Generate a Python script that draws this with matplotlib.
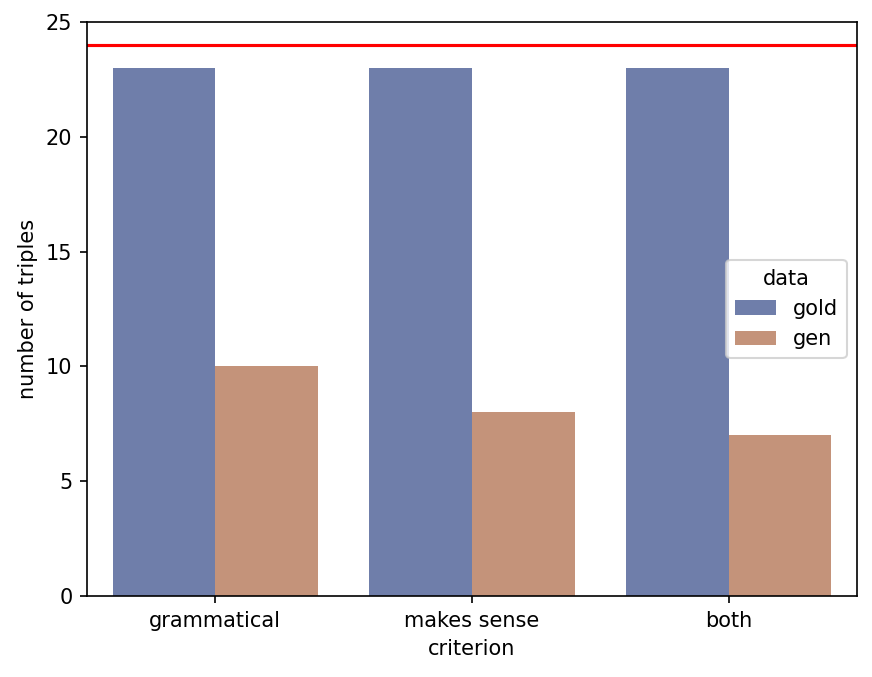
import numpy as np
import matplotlib.pyplot as plt

criteria = ['grammatical', 'makes sense', 'both']
gold_counts = [23, 23, 23]
gen_counts = [10, 8, 7]
total_triples = 24

fig = plt.figure(figsize=(872 / 150, 677 / 150), dpi=150)
ax = fig.add_axes([87 / 872, 1 - 596 / 677, (857 - 87) / 872, (596 - 22) / 677])

x = np.arange(len(criteria))
w = 0.4
ax.bar(x - w / 2, gold_counts, w, color='#6f7eaa', label='gold')
ax.bar(x + w / 2, gen_counts, w, color='#c4937a', label='gen')
ax.axhline(total_triples, color='red')

ax.set_xticks(x)
ax.set_xticklabels(criteria)
ax.set_xlim(-0.5, len(criteria) - 0.5)
ax.set_ylim(0, 25)
ax.set_xlabel('criterion')
ax.set_ylabel('number of triples')
ax.legend(title='data', loc='center right')

fig.savefig('out.png', dpi=150)
